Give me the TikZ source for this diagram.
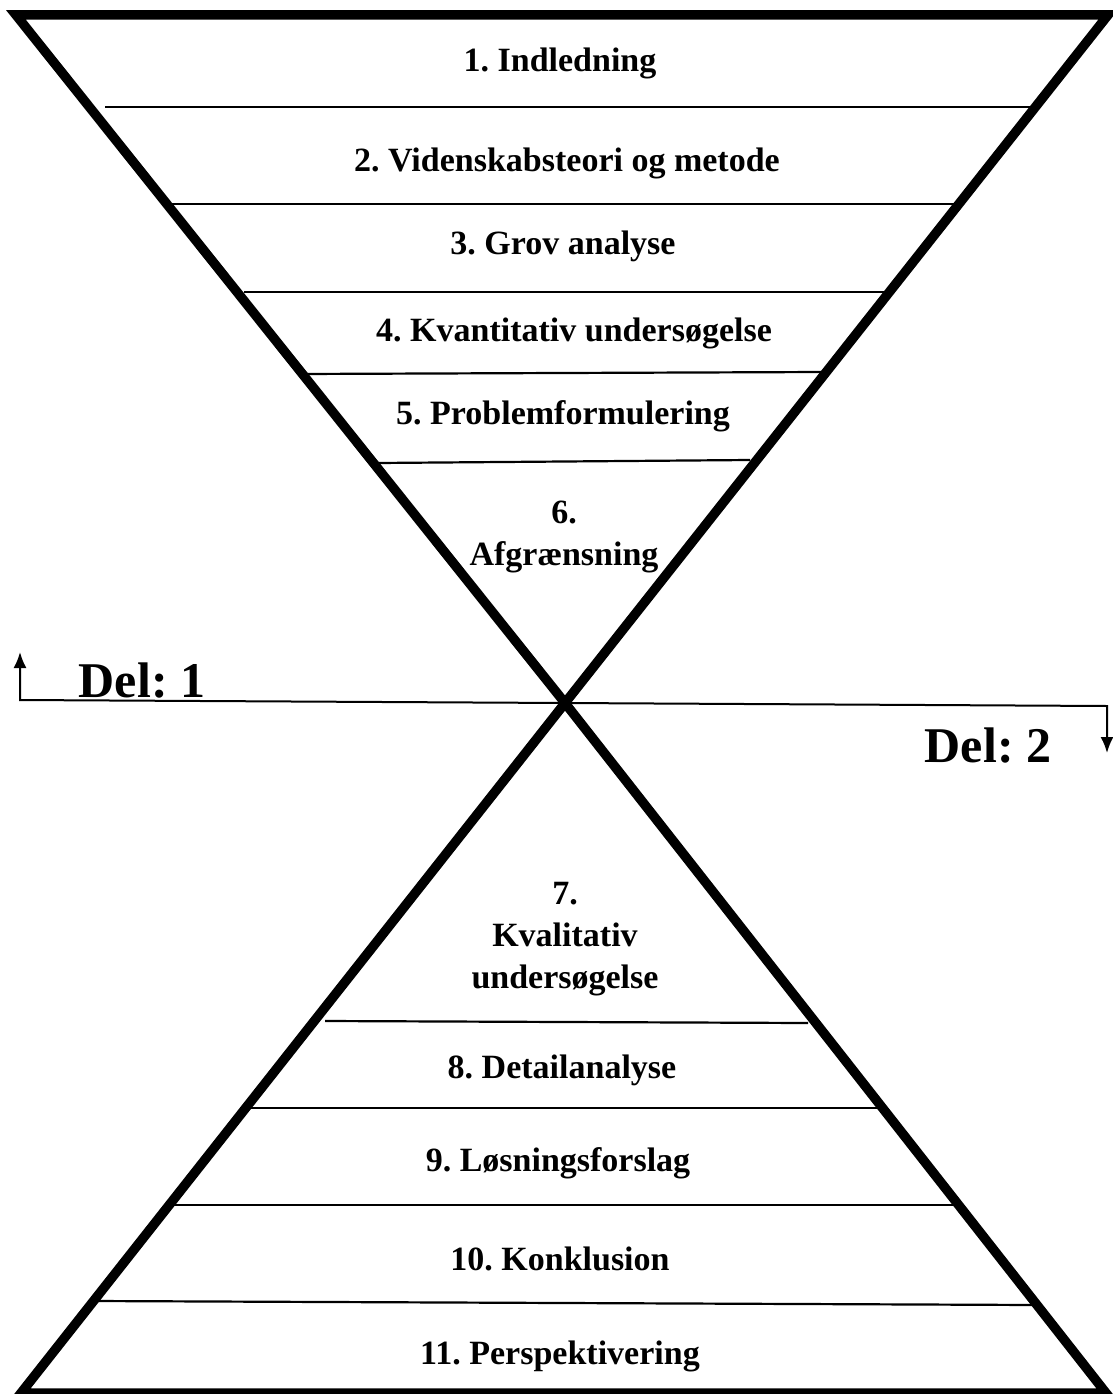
\documentclass[tikz,border=0pt]{standalone}
\usepackage{fontspec}
\setmainfont{Liberation Serif}
\usetikzlibrary{arrows.meta}
\frenchspacing
\begin{document}
\begin{tikzpicture}[x=1pt,y=-1pt,
  frame/.style={line width=9.5pt,line join=miter},
  divider/.style={line width=2.2pt},
  axis/.style={line width=2pt},
  tip/.style={-{Latex[length=16pt,width=13pt]}},
  label/.style={font=\bfseries\fontsize{34}{42}\selectfont,align=center,inner sep=0pt},
  part/.style={font=\bfseries\fontsize{50}{56}\selectfont,inner sep=0pt}]
\useasboundingbox (0,0) rectangle (1112,1394);

% hourglass corners and crossing point
\coordinate (TL) at (16,15);
\coordinate (TR) at (1108,15);
\coordinate (C)  at (565,703);
\coordinate (BL) at (21,1393);
\coordinate (BR) at (1106,1393);

% upper and lower triangles
\draw[frame] (TL) -- (TR) -- (C) -- cycle;
\draw[frame] (C) -- (BL) -- (BR) -- cycle;

% dividers, upper half
\draw[divider] (105,107) -- (1030,107);
\draw[divider] (172,204) -- (957,204);
\draw[divider] (244,292) -- (888,292);
\draw[divider] (300,374) -- (823,372);
\draw[divider] (378,463) -- (750,460);

% dividers, lower half
\draw[divider] (325,1021) -- (808,1023);
\draw[divider] (240,1108) -- (882,1108);
\draw[divider] (168,1205) -- (957,1205);
\draw[divider] (94,1301) -- (1037,1305);

% section labels
\node[label] (s1)  at (560,63)   {1. Indledning};
\node[label] (s2)  at (567,163)  {2. Videnskabsteori og metode};
\node[label] (s3)  at (563,246)  {3. Grov analyse};
\node[label] (s4)  at (574,333)  {4. Kvantitativ undersøgelse};
\node[label] (s5)  at (563,416)  {5. Problemformulering};
\node[label] (s6)  at (564,537)  {6.\\Afgrænsning};
\node[label] (s7)  at (565,939)  {7.\\Kvalitativ\\undersøgelse};
\node[label] (s8)  at (562,1070) {8. Detailanalyse};
\node[label] (s9)  at (558,1163) {9. Løsningsforslag};
\node[label] (s10) at (560,1259) {10. Konklusion};
\node[label] (s11) at (560,1356) {11. Perspektivering};

% part axis through the crossing point
\coordinate (L)    at (20,700);
\coordinate (Ltip) at (20,652);
\coordinate (R)    at (1107,706);
\coordinate (Rtip) at (1107,753);
\draw[axis,tip] (C) -- (L) -- (Ltip);
\draw[axis,tip] (C) -- (R) -- (Rtip);

\node[part] (d1) at (142,680) {Del: 1};
\node[part] (d2) at (988,745) {Del: 2};
\end{tikzpicture}
\end{document}
